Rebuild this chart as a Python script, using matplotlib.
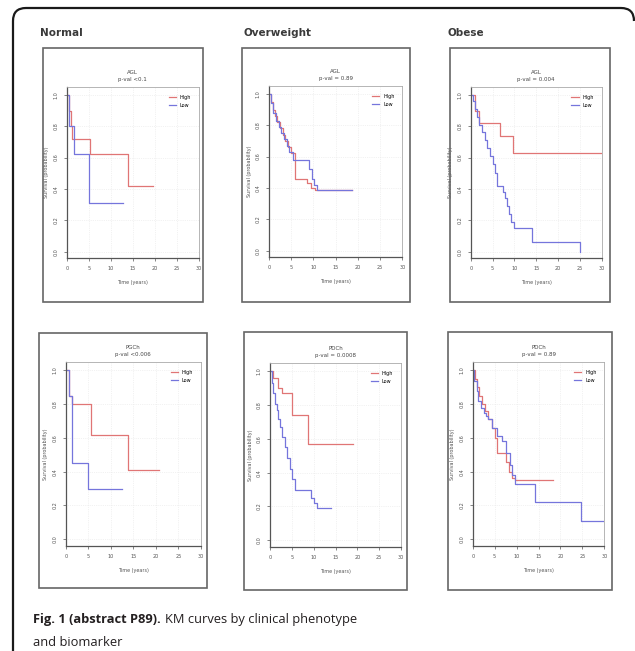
import matplotlib
matplotlib.use("Agg")
import matplotlib.pyplot as plt
from matplotlib.patches import Rectangle, PathPatch
from matplotlib.path import Path

W, H = 635, 651

col_titles = ["Normal", "Overweight", "Obese"]
panel_titles = ["AGL\np-val <0.1", "AGL\np-val = 0.89", "AGL\np-val = 0.004",
                "PGCh\np-val <0.006", "PDCh\np-val = 0.0008", "PDCh\np-val = 0.89"]
legend_labels = ["High", "Low"]
x_ticks = [0, 5, 10, 15, 20, 25, 30]
y_ticks = [0.0, 0.2, 0.4, 0.6, 0.8, 1.0]

# KM curves (time in years, survival probability), High / Low
p1_high_t = [0, 0.5, 1.0, 1.3, 5.2, 14.0, 19.5]
p1_high_s = [1.0, 0.9, 0.8, 0.72, 0.62, 0.42, 0.42]
p1_low_t = [0, 0.6, 1.7, 5.0, 12.8]
p1_low_s = [1.0, 0.8, 0.62, 0.31, 0.31]

p2_high_t = [0, 0.4, 0.9, 1.4, 1.9, 2.5, 3.1, 3.7, 4.3, 5.0, 5.8, 8.6, 9.5, 10.4, 18.6]
p2_high_s = [1, 0.95, 0.9, 0.86, 0.82, 0.78, 0.74, 0.7, 0.66, 0.62, 0.46, 0.43, 0.4, 0.385, 0.385]
p2_low_t = [0, 0.5, 1.0, 1.5, 2.2, 2.8, 3.4, 4.0, 4.6, 5.4, 8.9, 9.6, 10.2, 10.8, 18.6]
p2_low_s = [1, 0.94, 0.88, 0.83, 0.79, 0.75, 0.71, 0.67, 0.63, 0.58, 0.52, 0.46, 0.42, 0.385, 0.385]

p3_high_t = [0, 1.0, 2.0, 6.7, 9.8, 30]
p3_high_s = [1.0, 0.9, 0.82, 0.74, 0.63, 0.63]
p3_low_t = [0, 0.5, 1.0, 1.5, 2.0, 2.6, 3.2, 3.8, 4.4, 5.0, 5.6, 6.0, 7.3, 7.8, 8.3, 8.8, 9.3, 10.0, 14.0, 25.0]
p3_low_s = [1, 0.96, 0.91, 0.86, 0.81, 0.76, 0.71, 0.66, 0.61, 0.56, 0.5, 0.42, 0.38, 0.34, 0.29, 0.24, 0.19, 0.15, 0.065, 0.0]

p4_high_t = [0, 0.7, 1.3, 5.5, 13.9, 20.6]
p4_high_s = [1.0, 0.85, 0.8, 0.62, 0.41, 0.41]
p4_low_t = [0, 0.8, 1.4, 5.0, 12.4]
p4_low_s = [1.0, 0.85, 0.45, 0.30, 0.30]

p5_high_t = [0, 0.8, 1.9, 2.7, 5.0, 8.8, 19.0]
p5_high_s = [1.0, 0.96, 0.9, 0.87, 0.74, 0.57, 0.57]
p5_low_t = [0, 0.4, 0.8, 1.1, 1.5, 1.9, 2.3, 2.8, 3.4, 4.0, 4.6, 5.1, 5.7, 9.5, 10.0, 10.7, 14.0]
p5_low_s = [1, 0.93, 0.87, 0.81, 0.77, 0.72, 0.67, 0.61, 0.55, 0.49, 0.42, 0.36, 0.30, 0.25, 0.22, 0.19, 0.19]

p6_high_t = [0, 0.5, 1.0, 1.5, 2.1, 2.8, 3.6, 4.3, 5.0, 5.5, 7.7, 8.3, 9.0, 9.6, 18.4]
p6_high_s = [1, 0.95, 0.9, 0.85, 0.8, 0.76, 0.71, 0.66, 0.6, 0.51, 0.46, 0.4, 0.36, 0.35, 0.35]
p6_low_t = [0, 0.4, 0.9, 1.3, 1.9, 2.5, 3.1, 3.6, 4.4, 5.5, 6.6, 7.7, 8.4, 9.0, 9.6, 14.2, 24.8, 30]
p6_low_s = [1, 0.94, 0.88, 0.82, 0.78, 0.75, 0.73, 0.71, 0.66, 0.61, 0.58, 0.51, 0.44, 0.38, 0.33, 0.22, 0.11, 0.11]

curves = [
    ((p1_high_t, p1_high_s), (p1_low_t, p1_low_s)),
    ((p2_high_t, p2_high_s), (p2_low_t, p2_low_s)),
    ((p3_high_t, p3_high_s), (p3_low_t, p3_low_s)),
    ((p4_high_t, p4_high_s), (p4_low_t, p4_low_s)),
    ((p5_high_t, p5_high_s), (p5_low_t, p5_low_s)),
    ((p6_high_t, p6_high_s), (p6_low_t, p6_low_s)),
]

# layout in pixels (x0, y0, x1, y1), y from top
outer_boxes = [(43, 48, 203, 302), (242, 48, 410, 302), (450, 48, 610, 302),
               (39, 333, 207, 588), (244, 332, 407, 590), (448, 332, 612, 590)]
axes_boxes = [(66.7, 87, 199, 258), (269, 86, 402.3, 257), (470.7, 87, 601.7, 258),
              (65.7, 362, 201, 546), (270, 363, 401, 547), (472.7, 362, 604.3, 546)]
col_title_x = [40, 243, 448]

RED = "#e07575"
BLUE = "#7575dc"


def frac_rect(b):
    x0, y0, x1, y1 = b
    return [x0 / W, 1 - y1 / H, (x1 - x0) / W, (y1 - y0) / H]


fig = plt.figure(figsize=(W / 100, H / 100), dpi=100)
fig.patch.set_facecolor("white")

# outer rounded frame (left, top, top-right corner)
r = 13
verts = [(13 / W, 0.0), (13 / W, 1 - (8 + r) / H), (13 / W, 1 - 8 / H), ((13 + r) / W, 1 - 8 / H),
         ((634 - r) / W, 1 - 8 / H), (634 / W, 1 - 8 / H), (634 / W, 1 - (8 + r) / H)]
codes = [Path.MOVETO, Path.LINETO, Path.CURVE3, Path.CURVE3, Path.LINETO, Path.CURVE3, Path.CURVE3]
fig.patches.append(PathPatch(Path(verts, codes), transform=fig.transFigure, fill=False,
                             edgecolor="#1a1a1a", lw=1.6))

for i, t in enumerate(col_titles):
    fig.text(col_title_x[i] / W, 1 - 33 / H, t, ha="left", va="center", fontsize=7.5,
             fontweight="bold", family=["Liberation Sans Narrow", "DejaVu Sans"], color="#3a3a3a")

for i in range(6):
    ob = outer_boxes[i]
    fig.patches.append(Rectangle((ob[0] / W, 1 - ob[3] / H), (ob[2] - ob[0]) / W, (ob[3] - ob[1]) / H,
                                 transform=fig.transFigure, fill=False, edgecolor="#666666", lw=1.2))
    ax = fig.add_axes(frac_rect(axes_boxes[i]))
    (ht, hs), (lt, ls) = curves[i]
    ax.step(ht, hs, where="post", color=RED, lw=0.9, label=legend_labels[0])
    ax.step(lt, ls, where="post", color=BLUE, lw=0.9, label=legend_labels[1])
    ax.set_xlim(0, 30)
    ax.set_ylim(-0.04, 1.05)
    ax.set_xticks(x_ticks)
    ax.set_yticks(y_ticks)
    ax.set_xticklabels([str(v) for v in x_ticks])
    ax.set_yticklabels(["%.1f" % v for v in y_ticks], rotation=90, va="center")
    ax.tick_params(labelsize=3.5, length=2, width=0.5, colors="#555555", pad=4)
    ax.grid(True, color="#e6e6e6", lw=0.5, ls=":")
    for s in ["top", "right"]:
        ax.spines[s].set_color("#aaaaaa")
        ax.spines[s].set_linewidth(0.6)
    for s in ["left", "bottom"]:
        ax.spines[s].set_color("#555555")
        ax.spines[s].set_linewidth(0.9)
    ax.set_xlabel("Time (years)", fontsize=3.5, color="#555555", labelpad=6)
    ax.set_ylabel("Survival (probability)", fontsize=3.5, color="#555555", labelpad=3)
    ax.set_title(panel_titles[i], fontsize=4, color="#444444", pad=4, linespacing=1.6)
    ax.legend(loc="upper right", fontsize=3.5, frameon=False, handlelength=1.5,
              borderaxespad=1.2, labelspacing=0.6)

# caption
cap_fs = 9.3
bold = fig.text(33 / W, 1 - 620 / H, "Fig. 1 (abstract P89).", ha="left", va="center",
                fontsize=cap_fs, fontweight="bold", family=["Open Sans", "DejaVu Sans"], color="#231f20")
fig.canvas.draw()
bb = bold.get_window_extent(renderer=fig.canvas.get_renderer())
fig.text(bb.x1 / W + 4 / W, 1 - 620 / H, "KM curves by clinical phenotype", ha="left", va="center",
         fontsize=cap_fs, family=["Open Sans", "DejaVu Sans"], color="#231f20")
fig.text(33 / W, 1 - 642 / H, "and biomarker", ha="left", va="center",
         fontsize=cap_fs, family=["Open Sans", "DejaVu Sans"], color="#231f20")

fig.savefig("out.png", dpi=100, facecolor="white")
